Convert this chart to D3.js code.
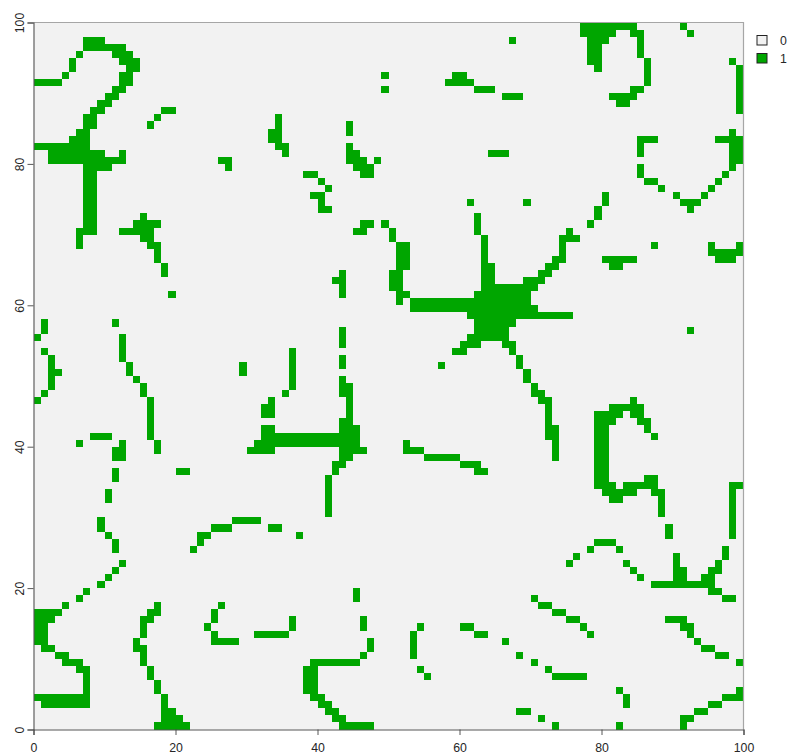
<!DOCTYPE html>
<html><head><meta charset="utf-8">
<script src="https://cdn.jsdelivr.net/npm/d3@7"></script>
<style>html,body{margin:0;padding:0;background:#fff}svg{display:block}text{font-family:"Liberation Sans",Arial,sans-serif}</style>
</head><body><svg id="c" width="787" height="753"></svg>
<script>
// Raster values: class 1 cells per row (row 0 = top, y 99-100), as "from-to" column runs. All other cells are class 0.
const rowRuns = [
"77-84 91","77-81 84-85 92","7-9 67 78-80 85","7-12 78-79 85","6 11-13 78-79 85",
"5 12-14 78-79 86 98","5 13-14 79 86 99","4 12-13 49 59-60 86 99","0-3 12-13 58-61 86 99","11-12 49 62-64 84-85 99",
"10-11 66-68 81-84 99","9-10 82-83 99","8-9 18-19 99","7-8 17 34","7-8 16 34 44",
"6-7 33-34 44 98","5-7 33-34 85-87 96-99","0-7 34-35 44 85 98-99","2-9 12 35 44-45 64-66 85 98-99","2-12 26-27 44-46 48 98-99",
"7-10 27 45-47 85 98","7-8 38-39 46-47 85 97","7-8 40 86-87 96","7-8 41 88 95","7-8 39-40 80 90 94",
"7-8 40 61 69 80 91-93","7-8 40-41 79 92","7-8 15 62 79","7-8 14-17 46-47 49 62 78","6-8 12-16 45-46 50 62 75",
"6 15-16 50 63 74-76","6 16-17 51-52 63 74 87 95 99","17 51-52 63 74 95-99","17 51-52 63 73-74 80-84 96-98","18 51-52 63-64 72-73 81-82",
"18 43 50-51 63-64 71-72","42-43 50-51 63-64 69-71","43 50-51 63-70","19 43 51-52 62-69","51 53-69",
"53-70","61-75","1 11 62-67","1 43 62-66 92","0 12 43 61-66",
"12 43 60-62 66-67","1 12 36 59-60 67","2 12 36 43 68","2 13 29 36 43 57 68","2-3 13 29 36 69",
"2 14 36 43 69","2 15 36 43-44 70","1 15 35 43-44 70-71","0 16 33 44 71-72 84","16 32-33 44 72 81-85",
"16 32-33 44 72 79-82 84-85","16 43-44 72 79-81 85-86","16 32-33 43-45 72-73 79-80 86","8-10 16 32-45 72-73 79-80 87","6 12 17 31-45 52 73 79-80",
"11-12 17 30-33 43-46 52-54 73 79-80","11-12 43-44 55-59 73 79-80","42-43 60-62 79-80","11 20-21 42 62-63 79-80","11 41 79-80 86-87",
"41 79-81 83-87 98-99","10 41 80-84 87-88 98","10 41 81-82 88 98","41 88 98","41 88 98",
"9 28-31 98","9 25-27 33-34 89 98","10 23-24 37 89 98","11 23 79-81","11 22 78 82 97",
"76 90 97","12 75 83 90 96","11 84 90-91 95-96","10 85 90-91 94-95","9 87-95",
"7 45 95-96","6 45 70 97-98","4 17 26 71-72","0-3 16-17 25 73-74","0-2 15-16 25 36 46 75-76 89-91",
"0-1 15 24 36 46 54 60-61 77 91-92","0-1 15 25 31-35 53 62-63 78 92","0-1 14 25-28 47 53 66 93","1-2 14-15 47 53 94-95","3-4 15 46 53 68 96-97",
"4-6 15 39-45 70 99","6-7 16 38-39 54 72","7 16 38-39 55 73-77","7 17 38-39","7 17 38-39 82 99",
"0-7 18 39-40 83 97-99","1-7 18 40-41 83 95-96","18-19 41-42 68-69 93-94","18-20 42-43 71 91-92","17-21 43-47 73 82 91"
];
const tickValues = [0, 20, 40, 60, 80, 100];
const legendClasses = ["0", "1"];
const classColors = ["#f2f2f2", "#00a600"];

const svg = d3.select("#c");
const x = d3.scaleLinear().domain([0, 100]).range([33.5, 743.5]);
const y = d3.scaleLinear().domain([0, 100]).range([729.5, 22.5]);
const color = d3.scaleOrdinal().domain(legendClasses).range(classColors);

const runs = rowRuns.flatMap((s, r) => s.split(" ").map(t => {
  const p = t.split("-").map(Number);
  return { row: r, from: p[0], to: p.length > 1 ? p[1] : p[0] };
}));

svg.append("rect").attr("x", x(0)).attr("y", y(100))
  .attr("width", x(100) - x(0)).attr("height", y(0) - y(100)).attr("fill", color("0"));

svg.append("g").attr("shape-rendering", "crispEdges").selectAll("rect").data(runs).join("rect")
  .attr("x", d => x(d.from)).attr("width", d => x(d.to + 1) - x(d.from))
  .attr("y", d => y(100 - d.row)).attr("height", d => y(100 - d.row - 1) - y(100 - d.row))
  .attr("fill", color("1"));

// frame
svg.append("path").attr("d", `M${x(0)},${y(100)}H${x(100)}V${y(0)}`)
  .attr("fill", "none").attr("stroke", "#a6a6a6").attr("stroke-width", 1.2);

const ax = d3.axisBottom(x).tickValues(tickValues).tickSize(5.5).tickFormat(d3.format("d"));
const gx = svg.append("g").attr("transform", `translate(0,${y(0)})`).call(ax);
const ay = d3.axisLeft(y).tickValues(tickValues).tickSize(6).tickFormat(d3.format("d"));
const gy = svg.append("g").attr("transform", `translate(${x(0)},0)`).call(ay);
[gx, gy].forEach(g => {
  g.selectAll("path.domain").attr("stroke", "#555").attr("stroke-width", 1.1);
  g.selectAll(".tick line").attr("stroke", "#444").attr("stroke-width", 0.9);
  g.selectAll("text").attr("font-size", 12.3).attr("fill", "#262626")
    .style("font-family", '"Liberation Sans",Arial,sans-serif');
});
gx.selectAll("text").attr("y", 22).attr("dy", 0);
gy.selectAll("text").attr("transform", "rotate(-90)")
  .attr("x", 0).attr("y", -9.5).attr("dy", 0).attr("text-anchor", "middle");

const lg = svg.append("g").selectAll("g").data(legendClasses).join("g")
  .attr("transform", (d, i) => `translate(757,${35.5 + i * 18})`);
lg.append("rect").attr("width", 10).attr("height", 9.5).attr("fill", d => color(d))
  .attr("stroke", "#222").attr("stroke-width", 1);
lg.append("text").attr("x", 23).attr("y", 9.3).attr("font-size", 12.3).attr("fill", "#262626").text(d => d);
</script></body></html>
